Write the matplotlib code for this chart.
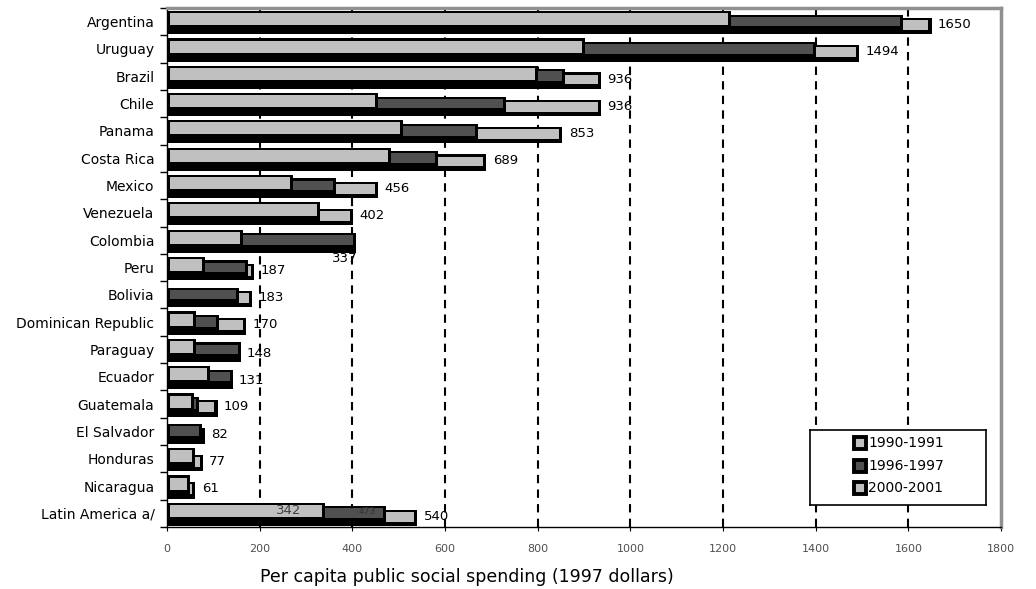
import matplotlib
matplotlib.use("Agg")
import matplotlib.pyplot as plt

plt.rcParams['font.family'] = ['DejaVu Sans']

countries = ['Argentina', 'Uruguay', 'Brazil', 'Chile', 'Panama', 'Costa Rica',
             'Mexico', 'Venezuela', 'Colombia', 'Peru', 'Bolivia',
             'Dominican Republic', 'Paraguay', 'Ecuador', 'Guatemala',
             'El Salvador', 'Honduras', 'Nicaragua', 'Latin America a/']
p1990 = [1218, 903, 800, 455, 510, 483, 272, 330, 165, 82, None, 63, 63, 92, 59,
         None, 60, 50, 342]
p1996 = [1588, 1401, 858, 731, 671, 584, 364, 320, 408, 174, 155, 112, 159, 142, 70,
         76, None, None, 473]
p2000 = [1650, 1494, 936, 936, 853, 689, 456, 402, 337, 187, 183, 170, 148, 131, 109,
         82, 77, 61, 540]
series_names = ['1990-1991', '1996-1997', '2000-2001']
fills = ['#c0c0c0', '#505050', '#c0c0c0']

fig = plt.figure(figsize=(10.36, 5.89), dpi=100)
ax = fig.add_axes([167/1036, 1 - 527/589, (1001-167)/1036, (527-8)/589])

n = len(countries)
ax.set_xlim(0, 1800)
ax.set_ylim(n - 0.5, -0.5)

# vertical layout inside a row slot (fraction from slot top)
black_top = [0.11, 0.24, 0.36]
fill_top = [0.19, 0.32, 0.44]
fill_bot = [0.63, 0.67, 0.80]
black_bot = 0.96
inset = 6.5

data = [p1990, p1996, p2000]
for k in [2, 1, 0]:
    z = 3 + (2 - k) * 2
    for i, v in enumerate(data[k]):
        if v is None:
            continue
        y0 = i - 0.5
        ax.barh(y0 + (black_top[k] + black_bot) / 2, v, height=black_bot - black_top[k],
                color='black', linewidth=0, zorder=z)
        ax.barh(y0 + (fill_top[k] + fill_bot[k]) / 2, v - 2 * inset,
                height=fill_bot[k] - fill_top[k], left=inset,
                color=fills[k], linewidth=0, zorder=z + 1)

# dashed grid
for gx in range(200, 1800, 200):
    ax.axvline(gx, color='black', lw=1.5, dashes=(4, 3), zorder=1)

# value labels (2000-2001)
for i, v in enumerate(p2000):
    if countries[i] == 'Colombia':
        ax.text(384, i + 0.67, str(v), fontsize=9.5, ha='center', va='center', zorder=10)
    elif countries[i] in ('Paraguay', 'Ecuador'):
        ax.text(p1996[i] + 12, i + 0.15, str(v), fontsize=9.5, ha='left', va='center', zorder=10)
    else:
        ax.text(v + 14, i + 0.1, str(v), fontsize=9.5, ha='left', va='center', zorder=10)
la = n - 1
ax.text(263, la - 0.1, str(p1990[la]), fontsize=9.5, ha='center', va='center',
        color='#404040', zorder=10)
ax.text(432, la - 0.07, str(p1996[la]), fontsize=6.5, ha='center', va='center',
        color='#303030', zorder=10)

# axes styling
ax.set_yticks([i - 0.5 for i in range(n + 1)])
ax.set_yticklabels([])
ax.set_yticks(range(n), minor=True)
ax.set_yticklabels(countries, minor=True, fontsize=10)
ax.tick_params(axis='y', which='major', length=5, direction='out', width=1)
ax.tick_params(axis='y', which='minor', length=0, pad=9)
ax.set_xticks(range(0, 1801, 200))
ax.tick_params(axis='x', length=3, labelsize=8, labelcolor='#505050', pad=9)

for s in ['left', 'bottom']:
    ax.spines[s].set_color('black')
    ax.spines[s].set_linewidth(1)
for s in ['top', 'right']:
    ax.spines[s].set_color('#909090')
    ax.spines[s].set_linewidth(2.5)

fig.text(467/1036, 1 - 577/589, 'Per capita public social spending (1997 dollars)',
         fontsize=12.5, ha='center', va='center')

# legend box
lax = fig.add_axes([810/1036, 1 - 505/589, 176/1036, 75/589])
lax.set_xlim(0, 1)
lax.set_ylim(3, 0)
lax.set_xticks([])
lax.set_yticks([])
for s in lax.spines.values():
    s.set_color('black')
    s.set_linewidth(1.2)
for k, name in enumerate(series_names):
    ly = 0.52 + 0.9 * k
    lax.plot(0.285, ly, marker='s', markersize=8, markerfacecolor=fills[k],
             markeredgecolor='black', markeredgewidth=2.8, linestyle='none')
    lax.text(0.33, ly, name, fontsize=10, ha='left', va='center')

fig.savefig('out.png', dpi=100)
